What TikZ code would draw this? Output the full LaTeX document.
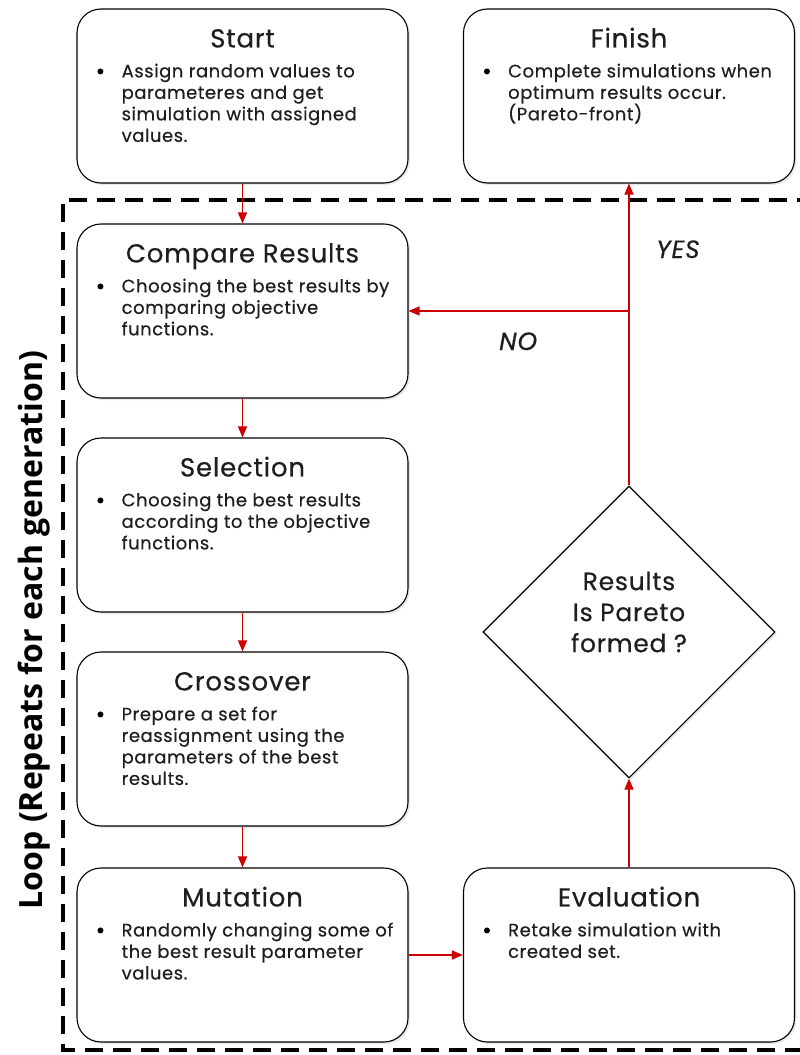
\documentclass[tikz,border=0pt]{standalone}
\usepackage{fontspec}
\setmainfont{Poppins}[LetterSpace=3, FakeBold=0.4]
\newfontfamily\loopfont{Open Sans}
\usetikzlibrary{arrows.meta,shapes.geometric,shadows,calc}
\definecolor{flowred}{RGB}{204,0,0}
\definecolor{ink}{RGB}{30,30,30}

% One process box: frame, title, bullet and body text
\newcommand\flowbox[5]{%
  \node[box] (#1) at (#2,#3) {};
  \node[ttl] (#1T) at ($(#1.north)+(0,39)$) {#4};
  \node[bul] (#1B) at ($(#1.north west)+(24,63)$) {};
  \node[bod] (#1X) at ($(#1.north west)+(45,55)$) {\rule{0pt}{13pt}#5};
}

\begin{document}
\begin{tikzpicture}[x=1pt,y=-1pt,
  box/.style={draw=black, line width=1.1pt, rounded corners=24pt, fill=white,
    minimum width=331pt, minimum height=174pt, inner sep=0pt,
    drop shadow={shadow xshift=2pt, shadow yshift=-2pt, opacity=0.18}},
  ttl/.style={text=ink, font=\fontsize{26}{30}\selectfont, anchor=base, inner sep=0pt},
  bod/.style={text=ink, font=\fontsize{18}{21.5}\selectfont, align=left, anchor=north west, inner sep=0pt},
  bul/.style={circle, fill=black, minimum size=6pt, inner sep=0pt},
  flow/.style={draw=flowred, line width=1.4pt, -{Triangle[length=11pt,width=9pt]}},
  answer/.style={text=ink, font=\fontsize{25}{28}\selectfont\itshape, anchor=base west, inner sep=0pt},
]
\useasboundingbox (0,0) rectangle (800,1055);

% loop frame (open to the right)
\draw[line width=4pt, dash pattern=on 18pt off 10pt] (815,200) -- (63,200) -- (63,1050) -- (815,1050);
\node[rotate=90, font=\loopfont\bfseries\fontsize{32}{34}\selectfont, inner sep=0pt] (loop) at (34,630)
  {Loop (Repeats for each generation)};

\flowbox{start}{242.5}{96}{Start}{Assign random values to\\parameteres and get\\simulation with assigned\\values.}
\flowbox{finish}{629}{96}{Finish}{Complete simulations when\\optimum results occur.\\(Pareto-front)}
\flowbox{cmp}{242.5}{311}{Compare Results}{Choosing the best results by\\comparing objective\\functions.}
\flowbox{sel}{242.5}{525}{Selection}{Choosing the best results\\according to the objective\\functions.}
\flowbox{cross}{242.5}{739}{Crossover}{Prepare a set for\\reassignment using the\\parameters of the best\\results.}
\flowbox{mut}{242.5}{955}{Mutation}{Randomly changing some of\\the best result parameter\\values.}
\flowbox{eval}{629}{955}{Evaluation}{Retake simulation with\\created set.}

% decision
\node[diamond, draw=black, line width=1.1pt, fill=white, minimum width=292pt, minimum height=292pt,
  inner sep=0pt, drop shadow={shadow xshift=2pt, shadow yshift=-2pt, opacity=0.18}] (dec) at (629,632) {};
\node[text=ink, font=\fontsize{25}{31}\selectfont, align=center, inner sep=0pt] (decT) at (629,612)
  {Results\\Is Pareto\\formed ?};

% connectors
\draw[flow] (start) -- (cmp);
\draw[flow] (cmp) -- (sel);
\draw[flow] (sel) -- (cross);
\draw[flow] (cross) -- (mut);
\draw[flow] (mut) -- (eval);
\draw[flow] (eval) -- (dec);
\draw[flow] (dec) -- (finish);
\coordinate (br) at (dec.north |- cmp.east);
\draw[flow] (br) -- (cmp.east);

\node[answer] (yes) at (656,258) {YES};
\node[answer] (no) at (499,350) {NO};
\end{tikzpicture}
\end{document}
